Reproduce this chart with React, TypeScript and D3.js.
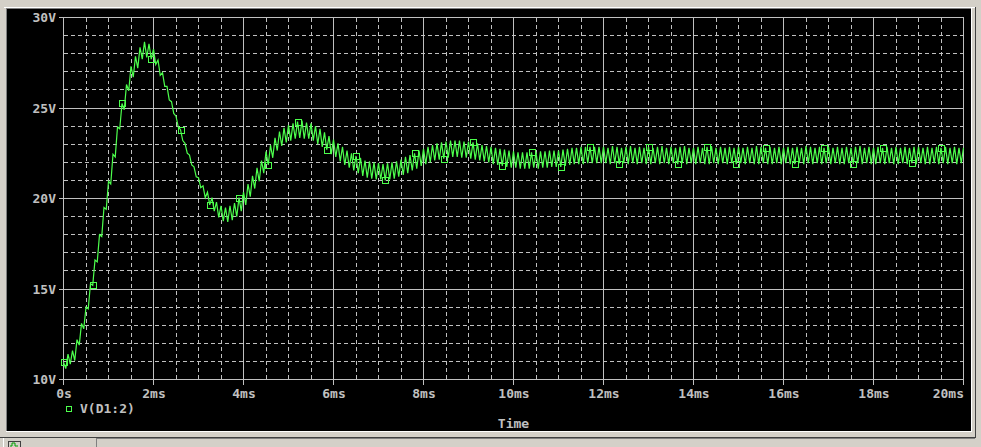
import React from 'react';
import * as d3 from 'd3';

const W = 981;
const H = 447;

const timeStepMs = 0.05;
const voltage: number[] = [
  // 0 - 0.95 ms
  10.95, 10.6, 11.4, 10.85, 11.6, 11.05, 12.2, 11.9, 13.1, 12.8, 14.0, 13.9, 15.3, 15.2, 16.6, 16.5, 18.0, 17.9, 19.5, 19.4,
  // 1 - 1.95 ms
  20.95, 20.8, 22.45, 22.3, 23.95, 23.85, 25.25, 24.9, 26.3, 25.95, 27.3, 26.7, 27.85, 27.2, 28.35, 27.7, 28.65, 27.8, 28.55, 27.7,
  // 2 - 2.95 ms
  28.25, 27.4, 27.65, 26.8, 26.95, 26.2, 26.2, 25.45, 25.35, 24.7, 24.55, 23.95, 23.8, 23.2, 23.05, 22.5, 22.4, 21.85, 21.75, 21.2,
  // 3 - 3.95 ms
  21.15, 20.6, 20.7, 20.05, 20.35, 19.65, 20.05, 19.3, 19.8, 18.95, 19.6, 18.75, 19.5, 18.7, 19.6, 18.8, 19.75, 19.0, 20.05, 19.3,
  // 4 - 4.95 ms
  20.35, 19.65, 20.8, 20.1, 21.25, 20.55, 21.7, 20.95, 22.1, 21.4, 22.6, 21.85, 22.95, 22.25, 23.35, 22.65, 23.7, 22.9, 23.9, 23.1,
  // 5 - 5.95 ms
  24.05, 23.2, 24.15, 23.3, 24.25, 23.35, 24.3, 23.3, 24.2, 23.3, 24.15, 23.2, 24.0, 23.0, 23.85, 22.85, 23.65, 22.7, 23.45, 22.45,
  // 6 - 6.95 ms
  23.25, 22.3, 23.05, 22.05, 22.85, 21.85, 22.65, 21.7, 22.5, 21.55, 22.35, 21.4, 22.25, 21.25, 22.1, 21.15, 22.05, 21.1, 22.0, 21.05,
  // 7 - 7.95 ms
  21.95, 21.05, 21.9, 21.0, 21.95, 21.05, 22.0, 21.1, 22.05, 21.2, 22.15, 21.3, 22.3, 21.4, 22.4, 21.55, 22.5, 21.65, 22.65, 21.8,
  // 8 - 8.95 ms
  22.75, 21.9, 22.85, 22.0, 22.95, 22.1, 23.05, 22.15, 23.1, 22.2, 23.15, 22.25, 23.2, 22.3, 23.2, 22.3, 23.2, 22.25, 23.15, 22.25,
  // 9 - 9.95 ms
  23.15, 22.2, 23.1, 22.15, 23.05, 22.1, 22.95, 22.05, 22.9, 22.0, 22.85, 21.9, 22.8, 21.85, 22.75, 21.8, 22.7, 21.75, 22.65, 21.7,
  // 10 - 10.95 ms
  22.6, 21.7, 22.55, 21.65, 22.55, 21.65, 22.55, 21.65, 22.55, 21.7, 22.55, 21.65, 22.6, 21.7, 22.6, 21.7, 22.65, 21.75, 22.65, 21.75,
  // 11 - 11.95 ms
  22.65, 21.75, 22.7, 21.8, 22.75, 21.85, 22.8, 21.9, 22.8, 21.9, 22.85, 21.9, 22.85, 21.95, 22.85, 21.95, 22.85, 21.95, 22.85, 21.95,
  // 12 - 12.95 ms
  22.85, 21.95, 22.8, 21.9, 22.9, 21.95, 22.85, 21.9, 22.8, 21.95, 22.85, 21.9, 22.9, 21.95, 22.8, 21.9, 22.85, 21.95, 22.8, 21.9,
  // 13 - 13.95 ms
  22.85, 21.9, 22.8, 21.95, 22.85, 21.9, 22.9, 21.95, 22.8, 21.9, 22.85, 21.95, 22.8, 21.9, 22.85, 21.95, 22.9, 21.9, 22.8, 21.95,
  // 14 - 14.95 ms
  22.8, 21.9, 22.85, 21.95, 22.8, 21.9, 22.85, 21.9, 22.9, 21.95, 22.8, 21.9, 22.85, 21.95, 22.8, 21.9, 22.85, 21.95, 22.8, 21.9,
  // 15 - 15.95 ms
  22.85, 21.95, 22.8, 21.9, 22.85, 21.95, 22.8, 21.9, 22.9, 21.9, 22.85, 21.95, 22.8, 21.9, 22.85, 21.9, 22.8, 21.95, 22.85, 21.9,
  // 16 - 16.95 ms
  22.8, 21.95, 22.85, 21.9, 22.8, 21.9, 22.85, 21.95, 22.8, 21.9, 22.9, 21.95, 22.85, 21.9, 22.8, 21.95, 22.85, 21.9, 22.8, 21.95,
  // 17 - 17.95 ms
  22.85, 21.9, 22.8, 21.95, 22.85, 21.9, 22.8, 21.9, 22.85, 21.95, 22.8, 21.9, 22.85, 21.95, 22.9, 21.9, 22.8, 21.95, 22.85, 21.9,
  // 18 - 18.95 ms
  22.8, 21.9, 22.85, 21.95, 22.8, 21.9, 22.85, 21.95, 22.8, 21.9, 22.85, 21.9, 22.8, 21.95, 22.85, 21.9, 22.8, 21.95, 22.85, 21.9,
  // 19 - 20 ms
  22.85, 21.95, 22.8, 21.9, 22.85, 21.9, 22.8, 21.95, 22.85, 21.9, 22.8, 21.95, 22.85, 21.9, 22.8, 21.95, 22.85, 21.9, 22.8, 21.95,
  22.8,
];

const xTicks = [0, 2, 4, 6, 8, 10, 12, 14, 16, 18, 20];
const xTickLabels = ['0s', '2ms', '4ms', '6ms', '8ms', '10ms', '12ms', '14ms', '16ms', '18ms', '20ms'];
const yTicks = [10, 15, 20, 25, 30];
const yTickLabels = ['10V', '15V', '20V', '25V', '30V'];
const xMinorStep = 0.5;
const yMinorStep = 1;
const seriesName = 'V(D1:2)';
const xAxisTitle = 'Time';
const markerEvery = 13;

const GREEN = '#4dff4d';
const GRID = '#c0c0c0';
const TEXT = '#c0c0c0';
const FONT = '"DejaVu Sans Mono", "Liberation Mono", monospace';

export default function App() {
  const x = d3.scaleLinear().domain([0, 20]).range([63.5, 963.5]);
  const y = d3.scaleLinear().domain([10, 30]).range([379.5, 17.5]);

  const pts: [number, number][] = voltage.map((v, i) => [i * timeStepMs, v]);
  const line = d3
    .line<[number, number]>()
    .x((d) => x(d[0]))
    .y((d) => y(d[1]));

  const xMinor = d3.range(0, 20 + 1e-9, xMinorStep).filter((t) => !xTicks.some((m) => Math.abs(m - t) < 1e-9));
  const yMinor = d3.range(10, 30 + 1e-9, yMinorStep).filter((v) => !yTicks.some((m) => Math.abs(m - v) < 1e-9));

  const [x0, x1] = x.range();
  const [y0, y1] = y.range(); // y0 bottom, y1 top

  const markers = pts.filter((_, i) => i % markerEvery === 0);

  return (
    <svg
      width={W}
      height={H}
      style={{ position: 'absolute', left: 0, top: 0, display: 'block' }}
      fontFamily={FONT}
    >
      {/* window background */}
      <rect x={0} y={0} width={W} height={H} fill="#d4d0c8" />
      {/* outer frame */}
      <line x1={4} x2={976} y1={7.5} y2={7.5} stroke="#ffffff" />
      <line x1={975.5} x2={975.5} y1={7} y2={438} stroke="#404040" />
      <line x1={0} x2={976} y1={437.5} y2={437.5} stroke="#404040" />
      {/* black plot panel */}
      <rect x={7} y={9} width={964} height={422} fill="#000000" />
      <line x1={6} x2={971} y1={8.5} y2={8.5} stroke="#808080" />
      <line x1={6.5} x2={6.5} y1={8} y2={431} stroke="#808080" />
      <line x1={6} x2={972} y1={431.5} y2={431.5} stroke="#ffffff" />
      <line x1={971.5} x2={971.5} y1={8} y2={432} stroke="#ffffff" />

      {/* status bar */}
      <rect x={96} y={438} width={879} height={9} fill="#d4d0c8" />
      <line x1={96.5} x2={96.5} y1={438} y2={447} stroke="#808080" />
      <line x1={96} x2={975} y1={438.5} y2={438.5} stroke="#808080" />
      <line x1={3.5} x2={3.5} y1={438} y2={447} stroke="#ffffff" />
      <rect x={8.5} y={441.5} width={12} height={7} fill="#d4d0c8" stroke="#404040" />
      <path d="M10,446 L12,446 L12,443 L15,443 L15,446 L18,446" fill="none" stroke="#00a000" />

      {/* minor grid */}
      <g stroke={GRID} strokeDasharray="4,3" shapeRendering="crispEdges">
        {xMinor.map((t) => (
          <line key={'vx' + t} x1={x(t)} x2={x(t)} y1={y1} y2={y0} />
        ))}
        {yMinor.map((v) => (
          <line key={'hy' + v} x1={x0} x2={x1} y1={y(v)} y2={y(v)} />
        ))}
      </g>
      {/* major grid */}
      <g stroke={GRID} shapeRendering="crispEdges">
        {xTicks.map((t) => (
          <line key={'mx' + t} x1={x(t)} x2={x(t)} y1={y1} y2={y0 + 5} />
        ))}
        {yTicks.map((v) => (
          <line key={'my' + v} x1={x0 - 5} x2={x1} y1={y(v)} y2={y(v)} />
        ))}
      </g>

      {/* y tick labels */}
      <g fill={TEXT} fontSize={13} fontWeight="bold" textAnchor="end">
        {yTicks.map((v, i) => (
          <text key={'yl' + v} x={56} y={y(v) + 4.5}>
            {yTickLabels[i]}
          </text>
        ))}
      </g>
      {/* x tick labels */}
      <g fill={TEXT} fontSize={13} fontWeight="bold">
        {xTicks.map((t, i) => {
          const last = i === xTicks.length - 1;
          return (
            <text
              key={'xl' + t}
              x={x(t) + 0.5}
              y={398}
              textAnchor={last ? 'end' : 'middle'}
            >
              {xTickLabels[i]}
            </text>
          );
        })}
      </g>

      {/* waveform */}
      <path d={line(pts) || ''} fill="none" stroke={GREEN} strokeWidth={1.2} />
      {markers.map((d, i) => (
        <rect
          key={'mk' + i}
          x={Math.round(x(d[0])) - 3 + 0.5}
          y={Math.round(y(d[1])) - 3 + 0.5}
          width={6}
          height={6}
          fill="none"
          stroke={GREEN}
          strokeWidth={1}
        />
      ))}

      {/* legend */}
      <rect x={66.5} y={406.5} width={5} height={5} fill="none" stroke={GREEN} />
      <text x={80} y={413} fill={TEXT} fontSize={13} fontWeight="bold">
        {seriesName}
      </text>
      {/* axis title */}
      <text x={(x0 + x1) / 2} y={428} fill={TEXT} fontSize={13} fontWeight="bold" textAnchor="middle">
        {xAxisTitle}
      </text>
    </svg>
  );
}
